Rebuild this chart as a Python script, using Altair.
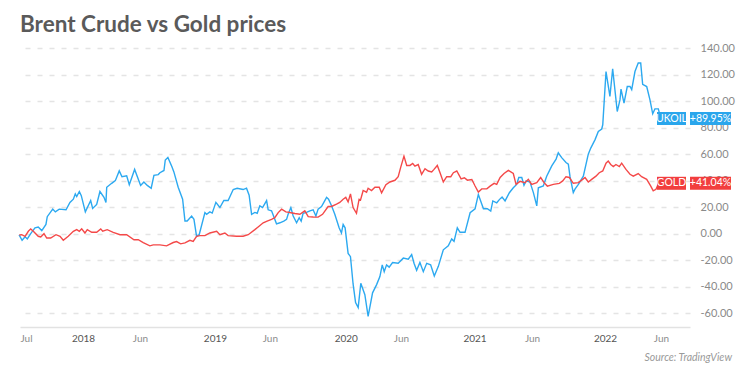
import altair as alt
import pandas as pd
import numpy as np

# ---- data (dates as decimal years, values = % change) ----
oil_t = [2017.510, 2017.533, 2017.556, 2017.573, 2017.599, 2017.632, 2017.657, 2017.684, 2017.716, 2017.726,
         2017.768, 2017.788, 2017.818, 2017.870, 2017.900, 2017.926, 2017.941, 2017.952, 2017.972, 2017.987,
         2018.018, 2018.059, 2018.074, 2018.105, 2018.130, 2018.161, 2018.176, 2018.182, 2018.220, 2018.248,
         2018.278, 2018.299, 2018.335, 2018.355, 2018.396, 2018.442, 2018.467, 2018.493, 2018.523, 2018.544,
         2018.577, 2018.590, 2018.621, 2018.631, 2018.651, 2018.682, 2018.697, 2018.730, 2018.764, 2018.782,
         2018.799, 2018.833, 2018.851, 2018.871, 2018.891, 2018.935, 2018.948, 2018.973, 2018.991, 2019.019,
         2019.050, 2019.080, 2019.113, 2019.152, 2019.182, 2019.228, 2019.254, 2019.274, 2019.293, 2019.318,
         2019.336, 2019.356, 2019.377, 2019.408, 2019.420, 2019.446, 2019.484, 2019.510, 2019.540, 2019.561,
         2019.573, 2019.594, 2019.612, 2019.638, 2019.658, 2019.673, 2019.688, 2019.714, 2019.740, 2019.765,
         2019.786, 2019.803, 2019.829, 2019.847, 2019.868, 2019.883, 2019.906, 2019.931, 2019.964, 2019.982,
         2019.995, 2020.010, 2020.033, 2020.051, 2020.071, 2020.090, 2020.110, 2020.130, 2020.161, 2020.186,
         2020.220, 2020.251, 2020.276, 2020.294, 2020.309, 2020.327, 2020.347, 2020.373, 2020.416, 2020.455,
         2020.493, 2020.519, 2020.537, 2020.557, 2020.582, 2020.608, 2020.634, 2020.664, 2020.692, 2020.723,
         2020.761, 2020.799, 2020.825, 2020.843, 2020.868, 2020.889, 2020.927, 2020.966, 2021.004, 2021.029,
         2021.068, 2021.098, 2021.124, 2021.140, 2021.170, 2021.190, 2021.211, 2021.234, 2021.267, 2021.297,
         2021.323, 2021.339, 2021.362, 2021.379, 2021.395, 2021.425, 2021.451, 2021.477, 2021.489, 2021.527,
         2021.553, 2021.592, 2021.625, 2021.642, 2021.668, 2021.701, 2021.719, 2021.732, 2021.757, 2021.770,
         2021.796, 2021.834, 2021.872, 2021.891, 2021.924, 2021.949, 2021.975, 2021.983, 2022.008, 2022.038,
         2022.059, 2022.094, 2022.115, 2022.123, 2022.146, 2022.171, 2022.192, 2022.205, 2022.230, 2022.255,
         2022.274, 2022.289, 2022.320, 2022.345, 2022.366, 2022.383, 2022.409, 2022.420]
oil_v = [-1.0, -5.0, -2.4, -4.0, 0.0, 4.4, 5.0, 2.3, 7.0, 12.8,
         18.5, 16.4, 18.5, 18.0, 23.6, 26.0, 30.0, 28.0, 31.8, 28.7,
         16.4, 25.0, 19.0, 22.0, 31.8, 27.4, 23.6, 35.0, 38.0, 40.0,
         47.4, 43.0, 43.6, 37.0, 48.5, 36.4, 39.0, 36.4, 34.3, 44.0,
         44.6, 46.0, 47.7, 55.6, 57.5, 50.5, 46.6, 35.0, 26.0, 9.5,
         9.5, 13.3, 10.8, -2.0, -0.8, 15.9, 14.6, 16.4, 15.5, 23.6,
         19.7, 25.0, 25.0, 33.3, 34.3, 33.3, 34.3, 29.0, 14.6, 16.0,
         15.4, 21.0, 19.7, 25.0, 18.0, 17.2, 7.4, 8.2, 9.5, 10.8,
         14.6, 19.7, 13.3, 8.2, 12.0, 9.5, 15.4, 16.0, 17.2, 18.0,
         13.3, 18.5, 20.5, 23.6, 27.4, 26.0, 21.0, 14.6, 4.4, 0.5,
         7.0, 4.4, -14.9, -17.4, -38.0, -52.0, -55.9, -37.5, -46.1, -62.4,
         -44.7, -38.5, -32.4, -23.6, -28.7, -23.6, -25.3, -21.8, -22.4, -18.5,
         -19.3, -15.8, -22.4, -27.7, -21.8, -28.7, -22.4, -23.6, -32.0, -24.7,
         -12.2, -9.1, -4.0, -5.8, 4.4, 1.0, 1.0, 15.8, 18.8, 29.6,
         18.8, 18.8, 17.0, 24.7, 23.3, 25.7, 27.7, 24.7, 30.9, 34.6,
         37.2, 42.4, 42.4, 36.5, 39.8, 39.0, 31.0, 21.0, 34.6, 36.0,
         43.4, 51.2, 56.3, 61.0, 57.4, 53.7, 52.5, 43.0, 31.0, 33.6,
         37.2, 43.4, 60.0, 64.6, 71.0, 77.2, 79.0, 82.2, 122.4, 103.6,
         124.5, 92.2, 101.0, 109.2, 98.6, 111.1, 111.1, 108.7, 122.4, 128.8,
         128.8, 112.8, 111.1, 101.0, 90.5, 94.2, 94.2, 89.95]

gold_t = [2017.512, 2017.530, 2017.556, 2017.581, 2017.599, 2017.619, 2017.657, 2017.676, 2017.701, 2017.722,
          2017.752, 2017.793, 2017.824, 2017.849, 2017.887, 2017.926, 2017.952, 2017.972, 2017.990, 2018.015,
          2018.033, 2018.067, 2018.105, 2018.136, 2018.151, 2018.186, 2018.232, 2018.284, 2018.335, 2018.391,
          2018.424, 2018.462, 2018.513, 2018.539, 2018.590, 2018.641, 2018.692, 2018.718, 2018.749, 2018.782,
          2018.820, 2018.845, 2018.871, 2018.897, 2018.935, 2018.973, 2019.025, 2019.050, 2019.088, 2019.113,
          2019.178, 2019.228, 2019.267, 2019.318, 2019.343, 2019.382, 2019.412, 2019.446, 2019.471, 2019.497,
          2019.523, 2019.556, 2019.586, 2019.625, 2019.663, 2019.701, 2019.727, 2019.765, 2019.803, 2019.837,
          2019.880, 2019.906, 2019.944, 2019.969, 2019.995, 2020.015, 2020.033, 2020.051, 2020.071, 2020.097,
          2020.117, 2020.128, 2020.148, 2020.174, 2020.186, 2020.212, 2020.238, 2020.271, 2020.289, 2020.322,
          2020.353, 2020.391, 2020.416, 2020.435, 2020.460, 2020.481, 2020.506, 2020.527, 2020.544, 2020.569,
          2020.595, 2020.621, 2020.646, 2020.672, 2020.690, 2020.715, 2020.736, 2020.761, 2020.787, 2020.818,
          2020.838, 2020.864, 2020.897, 2020.922, 2020.945, 2020.979, 2021.004, 2021.029, 2021.055, 2021.094,
          2021.119, 2021.150, 2021.170, 2021.196, 2021.226, 2021.259, 2021.297, 2021.318, 2021.349, 2021.387,
          2021.412, 2021.438, 2021.477, 2021.507, 2021.533, 2021.558, 2021.604, 2021.650, 2021.676, 2021.701,
          2021.727, 2021.757, 2021.796, 2021.829, 2021.847, 2021.872, 2021.898, 2021.931, 2021.956, 2021.983,
          2022.008, 2022.025, 2022.044, 2022.064, 2022.084, 2022.110, 2022.128, 2022.161, 2022.192, 2022.217,
          2022.255, 2022.281, 2022.320, 2022.350, 2022.370, 2022.391, 2022.409, 2022.420]
gold_v = [-1.0, -0.8, -2.0, 1.8, 3.6, 1.8, -2.0, -2.5, 0.0, -3.3,
          -3.3, -0.8, -2.0, -5.0, -2.0, 1.8, 3.0, 1.8, 3.6, 0.5,
          3.0, 1.0, 1.0, 3.6, 1.8, 3.0, 1.0, -0.8, -0.8, -4.6,
          -4.6, -6.7, -9.2, -8.5, -8.5, -9.2, -6.7, -6.0, -7.7, -7.0,
          -5.0, -5.8, -2.0, -1.5, -1.5, 0.5, 1.8, -0.8, 0.5, -1.5,
          -2.0, -2.0, -0.8, 3.0, 5.0, 8.2, 9.5, 10.8, 12.0, 15.9,
          18.5, 16.4, 16.0, 15.2, 14.6, 17.2, 12.8, 12.6, 12.5, 14.6,
          20.5, 20.5, 22.3, 23.6, 26.0, 27.4, 24.0, 30.0, 19.7, 15.4,
          26.0, 25.4, 32.6, 31.3, 34.3, 32.5, 35.0, 35.0, 30.8, 37.0,
          39.0, 40.3, 43.0, 50.0, 58.5, 51.5, 51.5, 53.0, 51.0, 52.2,
          44.8, 49.0, 47.3, 46.6, 48.5, 51.5, 46.0, 39.0, 43.0, 43.0,
          46.0, 47.3, 41.4, 42.2, 40.4, 40.9, 36.0, 31.4, 33.8, 33.8,
          35.9, 38.0, 37.2, 42.4, 45.4, 47.8, 45.4, 37.2, 39.5, 38.5,
          41.0, 37.2, 38.5, 42.4, 38.5, 35.9, 37.2, 38.0, 39.8, 43.0,
          42.4, 38.0, 38.5, 41.0, 42.4, 39.0, 41.0, 43.4, 46.0, 47.3,
          53.2, 54.8, 52.2, 50.6, 52.2, 50.6, 53.2, 48.5, 44.8, 43.4,
          45.4, 43.0, 41.0, 36.0, 32.3, 33.5, 37.5, 41.04]

tick_t = [2017.563, 2018.000, 2018.437, 2019.012, 2019.433, 2020.015, 2020.437, 2021.000, 2021.441, 2022.000, 2022.429]
y_ticks = [-60, -40, -20, 0, 20, 40, 60, 80, 100, 120, 140]
x_domain_t = [2017.517, 2022.652]
y_domain = [-70.5, 150]

series_names = ["UKOIL", "GOLD"]
series_colors = ["#2CA9F0", "#F44949"]
box_colors = ["#2AA6EC", "#F23E3E"]
last_values = [89.95, 41.04]
pct_labels = ["+89.95%", "+41.04%"]
title_text = ["Brent Crude vs Gold prices"]
source_text = ["Source: TradingView"]


def to_ms(y):
    yr = int(np.floor(y))
    start = pd.Timestamp(yr, 1, 1)
    end = pd.Timestamp(yr + 1, 1, 1)
    ts = start + (end - start) * (y - yr)
    return int(ts.value // 10**6)


df = pd.concat([
    pd.DataFrame({"t": [to_ms(v) for v in oil_t], "v": oil_v, "s": "UKOIL"}),
    pd.DataFrame({"t": [to_ms(v) for v in gold_t], "v": gold_v, "s": "GOLD"}),
])
lab = pd.DataFrame({"s": series_names, "v": last_values, "pct": pct_labels, "c": box_colors})

font = "Lato"
x_scale = alt.Scale(domain=[to_ms(x_domain_t[0]), to_ms(x_domain_t[1])], type="utc")
y_scale = alt.Scale(domain=y_domain, nice=False, zero=False)

x_axis = alt.Axis(
    values=[to_ms(v) for v in tick_t],
    labelExpr="utcmonth(datum.value)==0 ? utcFormat(datum.value,'%Y') : utcFormat(datum.value,'%b')",
    title=None, grid=False, ticks=False, domain=True, domainColor="#E2E2E2", domainWidth=1.5,
    labelFont=font, labelFontSize=10, labelPadding=6,
    labelColor=alt.condition("utcmonth(datum.value)==0", alt.value("#555555"), alt.value("#8C8C8C")),
    labelFlush=False, labelOverlap=False,
)
y_axis = alt.Axis(
    orient="right", values=y_ticks, title=None,
    labelExpr="replace(format(datum.value, '.2f'), '\u2212', '-')",
    grid=True, gridDash=[5, 7], gridColor="#E4E4E4", gridWidth=1.5,
    domain=False, ticks=False, labelFont=font, labelFontSize=11, labelColor="#8A8A8A", labelPadding=10,
    labelOverlap=False, labelFlush=False, labelBound=False,
)
Y = alt.Y("v:Q", scale=y_scale, axis=y_axis)

base = alt.Chart(df)
lines = base.mark_line(strokeWidth=1.4).encode(
    x=alt.X("t:T", scale=x_scale, axis=x_axis),
    y=Y,
    color=alt.Color("s:N", scale=alt.Scale(domain=series_names, range=series_colors), legend=None),
    detail="s:N",
)

lab_base = alt.Chart(lab)
box1 = lab_base.mark_rect(yOffset=-2.5, y2Offset=10.5).encode(
    x=alt.value(637), x2=alt.value(666), y=Y, y2="v:Q",
    color=alt.Color("c:N", scale=None),
)
box2 = lab_base.mark_rect(yOffset=-2.5, y2Offset=10.5).encode(
    x=alt.value(670), x2=alt.value(711), y=Y, y2="v:Q",
    color=alt.Color("c:N", scale=None),
)
txt1 = lab_base.mark_text(font=font, fontSize=10.5, color="white", align="center", baseline="middle", dy=4).encode(
    x=alt.value(651.5), y=Y, text="s:N",
)
txt2 = lab_base.mark_text(font=font, fontSize=10.5, color="white", align="center", baseline="middle", dy=4).encode(
    x=alt.value(690.5), y=Y, text="pct:N",
)
source = alt.Chart(pd.DataFrame({"txt": source_text})).mark_text(
    font=font, fontSize=10.5, fontStyle="italic", color="#9A9A9A", align="right", baseline="middle"
).encode(x=alt.value(712), y=alt.value(323), text="txt:N")
title = alt.Chart(pd.DataFrame({"txt": title_text})).mark_text(
    font=font, fontSize=22.5, fontWeight="bold", color="#5A5A5A", align="left", baseline="alphabetic"
).encode(x=alt.value(0), y=alt.value(-3), text="txt:N")

chart = alt.layer(lines, box1, box2, txt1, txt2, source, title).properties(
    width=670, height=292,
    autosize=alt.AutoSizeParams(type="none"),
    padding={"left": 12, "top": 27, "right": 52, "bottom": 42},
    background="white",
).configure_view(stroke=None).configure_axisY(labelOverlap=False)

chart.save("out.html", embed_options={"renderer": "svg", "actions": False})
